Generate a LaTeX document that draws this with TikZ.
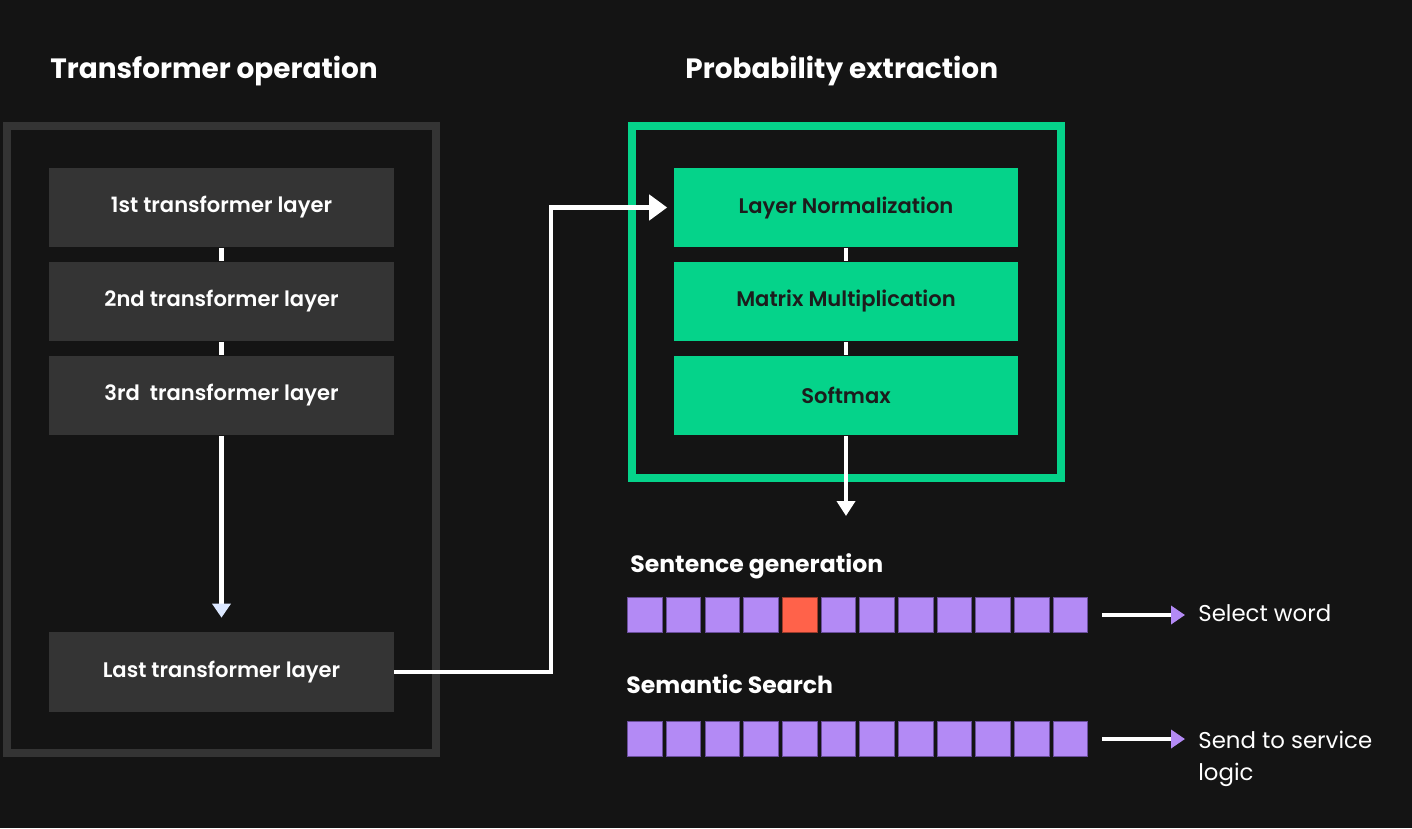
\documentclass[tikz,border=0pt]{standalone}
\usepackage{fontspec}
\setmainfont{Poppins}
\newfontfamily\mediumface{Poppins SemiBold}
\usetikzlibrary{arrows.meta}
\definecolor{bg}{HTML}{141414}
\definecolor{panel}{HTML}{343434}
\definecolor{mint}{HTML}{05D38A}
\definecolor{ink}{HTML}{1C1C1C}
\definecolor{lilac}{HTML}{B38AF5}
\definecolor{lilacedge}{HTML}{6A4E9C}
\definecolor{tomato}{HTML}{FF624A}
\definecolor{icyblue}{HTML}{DCE8FF}

\begin{document}
\begin{tikzpicture}[x=0.02cm, y=-0.02cm,
    title/.style={text=white, font=\bfseries\fontsize{15.9}{19}\selectfont, anchor=west, inner sep=0pt},
    subtitle/.style={text=white, font=\bfseries\fontsize{13.4}{16}\selectfont, anchor=west, inner sep=0pt},
    layer/.style={fill=panel, text=white, font=\mediumface\fontsize{12}{14}\selectfont, minimum width=6.9cm, minimum height=1.6cm, inner sep=0pt},
    stage/.style={layer, fill=mint, text=ink},
    token/.style={fill=lilac, draw=lilacedge, line width=0.5pt, minimum size=0.69cm, inner sep=0pt},
    result/.style={text=white, font=\fontsize{13}{18}\selectfont, anchor=west, inner sep=0pt, align=left},
    wire/.style={white, line width=0.09cm}]
  \fill[bg] (0,0) rectangle (1412,828);

  \node[title] (lefthead) at (50,71) {Transformer operation};
  \node[title] (righthead) at (685,71) {Probability extraction};

  \draw[panel, line width=0.16cm] (7,126) rectangle (436,753);
  \draw[mint, line width=0.16cm] (632,126) rectangle (1061,478);

  \node[layer] (t1) at (221.5,207.5) {1st transformer layer};
  \node[layer] (t2) at (221.5,301.5) {2nd transformer layer};
  \node[layer] (t3) at (221.5,395.5) {3rd\ \ transformer layer};
  \node[layer] (tlast) at (221.5,672) {Last transformer layer};

  \node[stage] (norm) at (846,207.5) {Layer Normalization};
  \node[stage] (matmul) at (846,301.5) {Matrix Multiplication};
  \node[stage] (softmax) at (846,395.5) {Softmax};

  \draw[wire] (t1) -- (t2);
  \draw[wire] (t2) -- (t3);
  \draw[wire, -{Triangle[width=0.36cm, length=0.28cm, color=icyblue]}, shorten >=0.28cm] (t3) -- (tlast);

  \coordinate (bend) at (551,207.5);
  \draw[wire, -{Triangle[width=0.5cm, length=0.36cm]}, shorten >=0.12cm] (tlast.east) -| (bend) -- (norm.west);

  \draw[wire] (norm) -- (matmul);
  \draw[wire] (matmul) -- (softmax);
  \coordinate (probs) at (846,516);
  \draw[wire, -{Triangle[width=0.36cm, length=0.3cm]}] (softmax) -- (probs);

  \node[subtitle] (genhead) at (630,566) {Sentence generation};
  \node[subtitle] (searchhead) at (626,684) {Semantic Search};

  \foreach \i in {0,1,2,3,5,6,7,8,9,10,11}
    \node[token] (g\i) at (645+38.67*\i,615) {};
  \node[token, fill=tomato, draw=tomato!60!black] (g4) at (645+38.67*4,615) {};
  \foreach \i in {0,...,11}
    \node[token] (s\i) at (645+38.67*\i,739) {};

  \node[result] (select) at (1198,613) {Select word};
  \node[result, anchor=north west] (send) at (1198,731) {Send to service\\logic};

  \draw[wire, -{Triangle[width=0.36cm, length=0.28cm, color=lilac]}, shorten <=0.28cm, shorten >=0.26cm] (g11.east) -- (g11.east -| select.west);
  \draw[wire, -{Triangle[width=0.36cm, length=0.28cm, color=lilac]}, shorten <=0.28cm, shorten >=0.26cm] (s11.east) -- (s11.east -| send.west);
\end{tikzpicture}
\end{document}
